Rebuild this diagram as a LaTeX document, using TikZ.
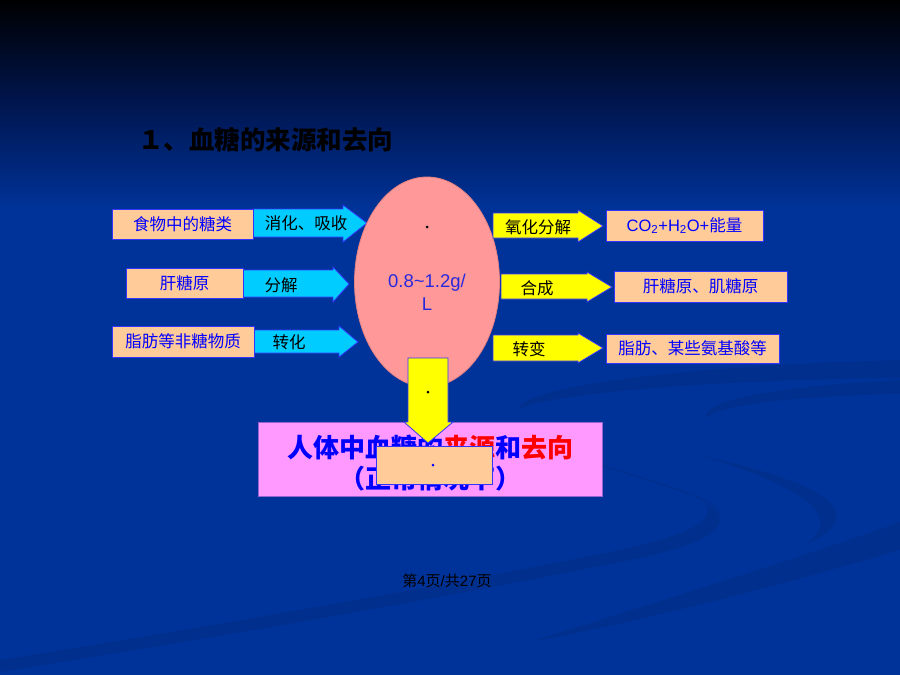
\documentclass[tikz,border=0pt]{standalone}
\usepackage{fontspec}
\setmainfont{Liberation Sans}
\newfontfamily\cjk{Noto Sans CJK SC}
\usetikzlibrary{shapes.geometric}
\definecolor{bgblue}{RGB}{0,51,153}
\definecolor{swoosh}{RGB}{0,47,142}
\definecolor{boxorange}{RGB}{255,204,153}
\definecolor{arrcyan}{RGB}{0,204,255}
\definecolor{arryellow}{RGB}{255,255,0}
\definecolor{ellpink}{RGB}{255,153,153}
\definecolor{elledge}{RGB}{230,130,130}
\definecolor{boxpink}{RGB}{255,153,255}
\definecolor{pinkedge}{RGB}{150,100,210}
\definecolor{edgeblue}{RGB}{51,51,255}
\definecolor{txtblue}{RGB}{0,0,255}
\definecolor{conctxt}{RGB}{40,40,220}
\definecolor{txtred}{RGB}{255,0,0}
\newcommand\myrarrow[9]{% fill, x0, xb, xt, body top, body bottom, head top, head bottom, y centre
  \filldraw[fill=#1, draw=edgeblue, line width=0.8pt, line join=miter]
    (#2,#5) -- (#3,#5) -- (#3,#7) -- (#4,#9) -- (#3,#8) -- (#3,#6) -- (#2,#6) -- cycle;}
\tikzset{
  obox/.style={draw=edgeblue, line width=1pt, fill=boxorange, text=txtblue, inner sep=0pt,
    font=\cjk\fontsize{16.5}{18}\selectfont},
  atext/.style={text=black, inner sep=0pt, font=\cjk\fontsize{16.5}{18}\selectfont},
  dotmark/.style={circle, fill=black, inner sep=0pt, minimum size=3pt},
}
\begin{document}
\begin{tikzpicture}[x=1pt,y=-1pt]
\useasboundingbox (0,0) rectangle (900,675);
% background
\fill[bgblue] (0,0) rectangle (900,675);
\shade[top color=black, bottom color=bgblue, middle color={rgb,255:red,0;green,22;blue,80}] (0,0) rectangle (900,210);
% swooshes
\fill[swoosh] (900,360) .. controls (700,365) and (520,385) .. (518,410) .. controls (540,395) and (700,380) .. (900,378) -- cycle;
\draw[swoosh, line width=1.5pt] (600,465) .. controls (680,490) and (740,505) .. (712,525);
\fill[swoosh] (705,503) .. controls (745,528) and (700,548) .. (600,566) .. controls (400,606) and (200,640) .. (0,672) -- (0,660) .. controls (200,628) and (420,590) .. (600,554) .. controls (680,538) and (720,522) .. (705,503) -- cycle;
\fill[swoosh] (900,380) .. controls (780,386) and (700,400) .. (706,418) .. controls (722,404) and (800,396) .. (900,394) -- cycle;
\fill[swoosh] (700,455) .. controls (800,478) and (885,508) .. (805,545) .. controls (845,515) and (805,488) .. (700,455) -- cycle;
\fill[swoosh] (900,522) -- (900,550) .. controls (800,580) and (650,620) .. (530,642) .. controls (650,604) and (800,558) .. (900,522) -- cycle;
% title
\node[font=\cjk\bfseries\fontsize{25.5}{30}\selectfont, text=black, anchor=west, inner sep=0pt] (title) at (138,140) {１、血糖的来源和去向};
% left sources
\myrarrow{arrcyan}{253}{343}{367}{209}{237}{205}{242}{223}
\myrarrow{arrcyan}{243}{333}{349}{270}{297}{267}{302}{284}
\myrarrow{arrcyan}{254}{339}{358}{330}{353}{326}{357}{342}
\node[obox, minimum width=141pt, minimum height=30pt] (food) at (182.5,224) {食物中的糖类};
\node[obox, minimum width=117pt, minimum height=30pt] (liver) at (184.5,283) {肝糖原};
\node[obox, minimum width=142pt, minimum height=31pt] (fat) at (183,341.5) {脂肪等非糖物质};
\node[atext] (digest) at (306,223) {消化、吸收};
\node[atext] (split) at (281,285) {分解};
\node[atext] (conv) at (289,342) {转化};
% blood sugar pool
\node[ellipse, draw=elledge, line width=0.8pt, fill=ellpink, minimum width=145pt, minimum height=210pt, inner sep=0pt] (pool) at (427,282) {};
\node[dotmark] (dot1) at (427,227) {};
\node[text=conctxt, font=\fontsize{18.5}{23}\selectfont, align=center, inner sep=0pt] (conc) at (427,292) {0.8\textasciitilde1.2g/\\L};
% right destinations
\myrarrow{arryellow}{493}{578}{603}{213}{238}{210}{242}{226}
\myrarrow{arryellow}{501}{587}{612}{274}{299}{272}{302}{287}
\myrarrow{arryellow}{493}{578}{603}{335}{361}{333}{363}{348}
\node[atext] (oxid) at (538,227) {氧化分解};
\node[atext] (synth) at (537,288) {合成};
\node[atext] (trans) at (529,349) {转变};
\node[obox, minimum width=157pt, minimum height=31pt, font=\fontsize{16.5}{18}\selectfont] (co2) at (684.5,225.5) {CO\textsubscript{2}+H\textsubscript{2}O+{\cjk 能量}};
\node[obox, minimum width=173pt, minimum height=31pt] (glyc) at (700.5,286.5) {肝糖原、肌糖原};
\node[obox, minimum width=173pt, minimum height=29pt] (amino) at (692.5,348.5) {脂肪、某些氨基酸等};
% summary box
\node[draw=pinkedge, line width=1pt, fill=boxpink, minimum width=344pt, minimum height=74pt, inner sep=0pt] (summary) at (430,459) {};
\node[font=\cjk\bfseries\fontsize{26}{31}\selectfont, align=center, text=txtblue, inner sep=0pt] (sumtxt) at (430,463.5) {人体中血糖的{\color{txtred}来源}和{\color{txtred}去向}\\（正常情况下）};
% down arrow
\filldraw[fill=arryellow, draw=edgeblue, line width=0.8pt] (408,358) -- (448,358) -- (448,422) -- (453,422) -- (428,443) -- (404,422) -- (408,422) -- cycle;
\node[dotmark] (dot2) at (428,392) {};
\node[obox, minimum width=116pt, minimum height=38pt] (cover) at (434,465) {};
\node[dotmark, fill=txtblue] (dot3) at (433,465) {};
% footer
\node[font=\fontsize{15}{18}\selectfont, text=black, inner sep=0pt] (foot) at (447,581) {{\cjk 第}4{\cjk 页}/{\cjk 共}27{\cjk 页}};
\end{tikzpicture}
\end{document}
